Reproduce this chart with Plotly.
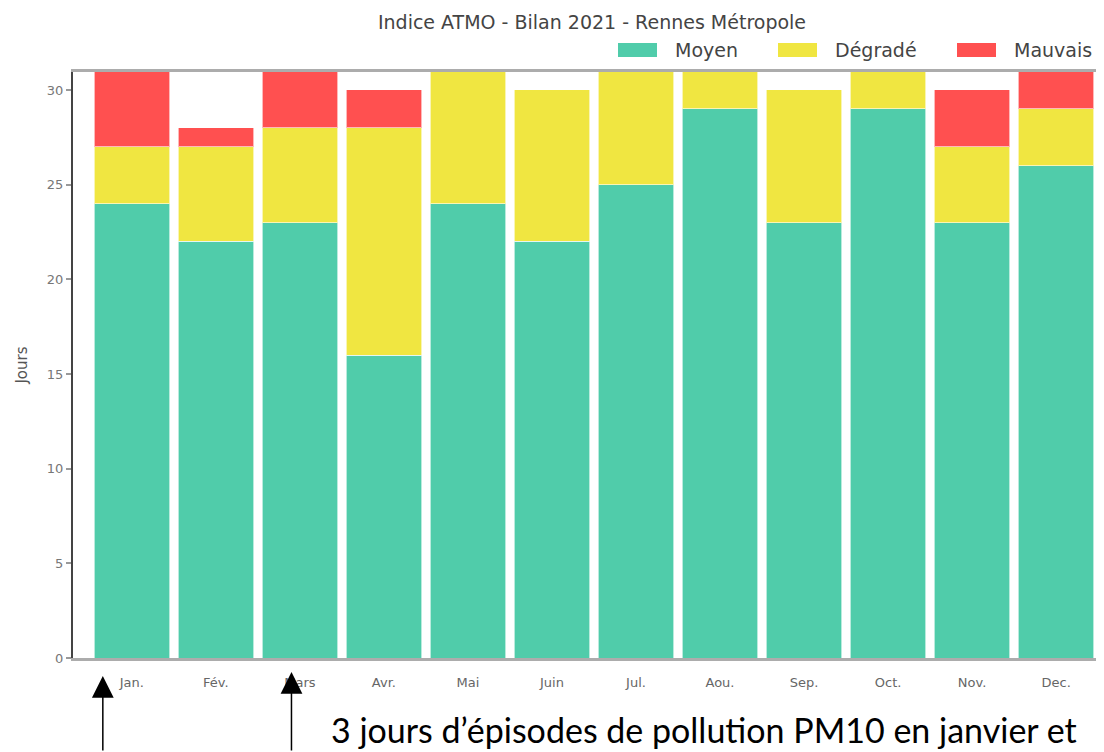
import plotly.graph_objects as go

months = ["Jan.", "Fév.", "Mars", "Avr.", "Mai", "Juin", "Jul.", "Aou.", "Sep.", "Oct.", "Nov.", "Dec."]
moyen = [24, 22, 23, 16, 24, 22, 25, 29, 23, 29, 23, 26]
degrade = [3, 5, 5, 12, 7, 8, 6, 2, 7, 2, 4, 3]
mauvais = [4, 1, 3, 2, 0, 0, 0, 0, 0, 0, 3, 2]
series = [("Moyen", moyen, "#50CCAA"), ("Dégradé", degrade, "#F0E641"), ("Mauvais", mauvais, "#FF5050")]
y_ticks = [0, 5, 10, 15, 20, 25, 30]

W, H = 1096, 744
L, T, B = 65, 64, 94
PW, PH = W - L, H - T - B  # plot area in pixels

FONT = "DejaVu Sans"


def px(xp):
    return (xp - L) / PW


def py(yp):
    return (H - B - yp) / PH


fig = go.Figure()
for name, vals, col in series:
    fig.add_trace(go.Bar(
        x=list(range(len(months))), y=vals, name=name,
        marker=dict(color=col, line=dict(color="rgba(255,255,255,0.6)", width=1)),
        width=0.9, showlegend=False,
    ))

fig.update_layout(
    barmode="stack",
    width=W, height=H,
    margin=dict(l=L, r=0, t=T, b=B),
    paper_bgcolor="white", plot_bgcolor="white",
    font=dict(family=FONT, color="#555"),
    title=dict(text="Indice ATMO - Bilan 2021 - Rennes Métropole", xref="container",
               x=584 / W, xanchor="center",
               y=1 - 14 / H, yanchor="middle",
               font=dict(family=FONT, size=19, color="#444")),
    xaxis=dict(range=[-0.7, 11.57], tickmode="array", tickvals=list(range(len(months))),
               ticktext=months, showgrid=False, zeroline=False,
               showline=True, mirror=True, linecolor="rgba(90,90,90,0.5)", linewidth=3,
               ticks="", tickfont=dict(family=FONT, size=13, color="#666"),
               ticklabelstandoff=10),
    yaxis=dict(range=[0, 30.95], tickmode="array", tickvals=y_ticks, showgrid=False,
               zeroline=False, showline=True, linecolor="#444", linewidth=2,
               ticks="outside", ticklen=5, tickcolor="#999", tickwidth=2,
               tickfont=dict(family=FONT, size=13, color="#777"),
               title=dict(text="Jours", font=dict(family=FONT, size=15, color="#555"), standoff=16)),
)

# custom legend
leg_x = [610, 770, 949]
for (name, vals, col), lx in zip(series, leg_x):
    fig.add_shape(type="rect", xref="paper", yref="paper",
                  x0=px(lx), x1=px(lx + 39),
                  y0=py(49), y1=py(35),
                  fillcolor=col, line=dict(width=0))
    fig.add_annotation(text=name, xref="paper", yref="paper",
                       x=px(lx + 55), y=py(42),
                       xanchor="left", yanchor="middle", showarrow=False,
                       font=dict(family=FONT, size=19, color="#444"))

# arrows
fig.add_annotation(x=-0.345, y=py(668), xref="x", yref="paper", text="", showarrow=True,
                   ax=0, ay=90, arrowhead=2, arrowsize=2.9, arrowwidth=1.5, arrowcolor="black")
fig.add_annotation(x=1.9, y=py(664), xref="x", yref="paper", text="", showarrow=True,
                   ax=0, ay=90, arrowhead=2, arrowsize=2.9, arrowwidth=1.5, arrowcolor="black")

fig.add_annotation(text="3 jours d’épisodes de pollution PM10 en janvier et",
                   xref="paper", yref="paper", x=px(321), y=py(721),
                   xanchor="left", yanchor="middle", showarrow=False,
                   font=dict(family="Lato", size=34, color="black"))

fig.write_html("out.html")
